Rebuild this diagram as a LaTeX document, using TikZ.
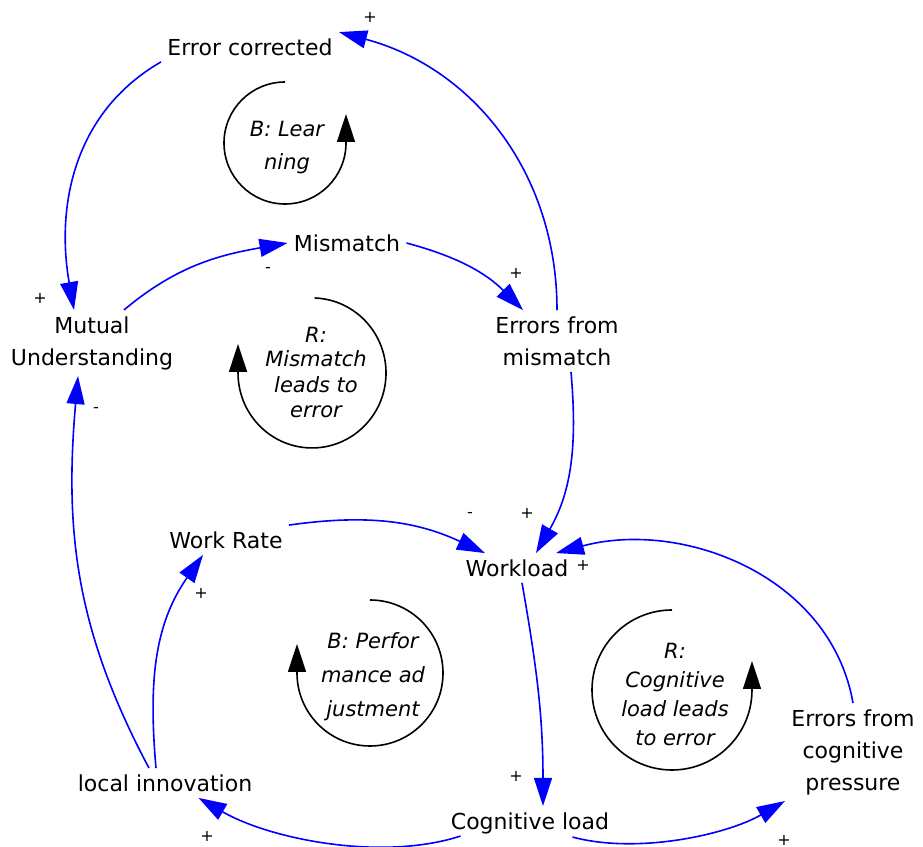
\documentclass[tikz,border=0pt]{standalone}
\usepackage{fontspec}
\setmainfont{DejaVu Sans}
\usetikzlibrary{positioning,arrows.meta}

\begin{document}
\begin{tikzpicture}[
	x=0.5pt,y=0.5pt,
	var/.style={align=center,inner sep=3pt,font=\fontsize{11}{16}\selectfont},
	link/.style={draw,blue,line width=0.8pt,-{Triangle[length=14pt,width=9pt]}},
	sign/.style={inner sep=0pt,font=\fontsize{8}{8}\selectfont},
	loopname/.style={align=center,font=\fontsize{10.5}{#1}\selectfont\itshape},
	looparrow/.style={draw,black,line width=0.8pt,-{Triangle[length=14pt,width=9pt]}}
	]
	\useasboundingbox (0,0) rectangle (923,847);
	\node[var] (ErrorCorrected) at (250,800) {Error corrected};
	\node[var] (Mismatch) at (347,604) {Mismatch};
	\node[var] (Mutual) at (92,504) {Mutual\\Understanding};
	\node[var] (ErrorsMismatch) at (557,506) {Errors from\\mismatch};
	\node[var] (WorkRate) at (226,307) {Work Rate};
	\node[var] (Workload) at (517,279) {Workload};
	\node[var] (LocalInnovation) at (165,64) {local innovation};
	\node[var] (CognitiveLoad) at (530,24) {Cognitive load};
	\node[var] (ErrorsCognitive) at (853,95) {Errors from\\cognitive\\pressure};
		\path [every edge/.style=link]
		(ErrorsMismatch.north) edge[out=90,in=-15] (ErrorCorrected.north east)
		(ErrorCorrected.south west) edge[out=210,in=100] ([xshift=-9pt]Mutual.north)
		([xshift=16pt]Mutual.north) edge[out=40,in=190] (Mismatch.west)
		(Mismatch.east) edge[out=-15,in=135] ([xshift=-17pt]ErrorsMismatch.north)
		([xshift=7pt]ErrorsMismatch.south) edge[out=-85,in=60] ([xshift=9.5pt]Workload.north)
		(WorkRate.north east) edge[out=8,in=155] ([xshift=-16pt]Workload.north)
		(ErrorsCognitive.north) edge[out=100,in=15] ([xshift=19.5pt]Workload.north)
		([xshift=2.5pt]Workload.south) edge[out=-80,in=90] ([xshift=6.5pt]CognitiveLoad.north)
		([xshift=8pt,yshift=2pt]CognitiveLoad.south west) edge[out=198,in=-30,looseness=0.8] (LocalInnovation.-24)
		([xshift=-21.5pt,yshift=1.5pt]CognitiveLoad.south east) edge[out=-15,in=210,looseness=0.8] (ErrorsCognitive.south west)
		([xshift=-8pt]LocalInnovation.north) edge[out=118,in=-95] ([xshift=-7pt]Mutual.south)
		([xshift=-4.5pt]LocalInnovation.north) edge[out=95,in=235] ([xshift=-11.5pt]WorkRate.south);
	\node[sign] (s1) at (370,830) {+};
	\node[sign] (s2) at (40,549) {+};
	\node[sign] (s3) at (268,577) {-};
	\node[sign] (s4) at (516,574) {+};
	\node[sign] (s5) at (527,334) {+};
	\node[sign] (s6) at (470,332) {-};
	\node[sign] (s7) at (583,282) {+};
	\node[sign] (s8) at (516,71) {+};
	\node[sign] (s9) at (207,11) {+};
	\node[sign] (s10) at (784,7) {+};
	\node[sign] (s11) at (96,437) {-};
	\node[sign] (s12) at (201,254) {+};
	\draw[looparrow] (285,765) arc[start angle=90,end angle=360,radius=61] -- ++(0,29);
	\node[loopname=16.5] (Learning) at (287,699) {B: Lear\\ning};
	\draw[looparrow] (314.6,549) arc[start angle=88,end angle=-180,x radius=74,y radius=75] -- ++(0,29);
	\node[loopname=12.5] (MismatchLoop) at (316,475) {R:\\Mismatch\\leads to\\error};
	\draw[looparrow] (370,247) arc[start angle=90,end angle=-180,radius=73] -- ++(0,29);
	\node[loopname=17] (Performance) at (373,170) {B: Perfor\\mance ad\\justment};
	\draw[looparrow] (672,237) arc[start angle=90,end angle=360,radius=80] -- ++(0,29);
	\node[loopname=14.5] (CognitiveLoop) at (675,153) {R:\\Cognitive\\load leads\\to error};
\end{tikzpicture}
\end{document}
